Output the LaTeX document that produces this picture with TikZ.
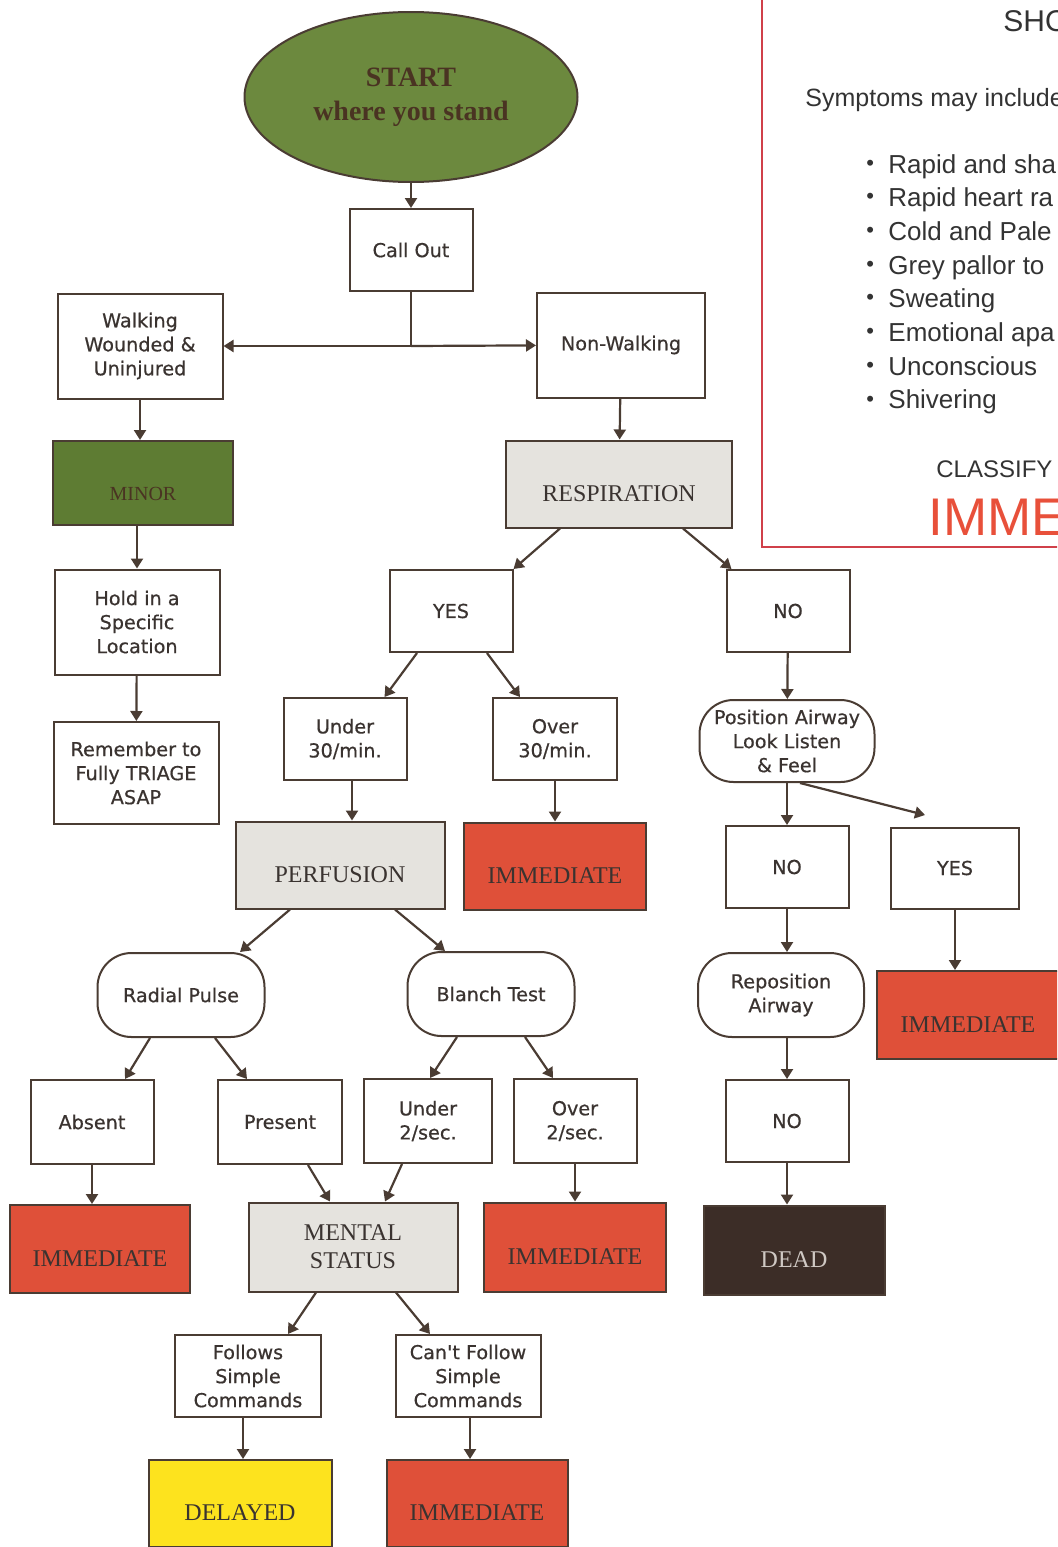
\documentclass[tikz,border=0pt]{standalone}
\usepackage{fontspec}
\setmainfont{Liberation Serif}
\newfontfamily\boxfont{DejaVu Sans}[FakeBold=0.6]
\newfontfamily\shockfont{Liberation Sans}
\usetikzlibrary{arrows.meta,shapes.geometric}
\definecolor{linec}{HTML}{4A3C33}
\definecolor{txtc}{HTML}{3A3330}
\definecolor{startc}{HTML}{6C893E}
\definecolor{minorc}{HTML}{5E7C33}
\definecolor{darkt}{HTML}{4A3322}
\definecolor{greyc}{HTML}{E5E3DE}
\definecolor{redc}{HTML}{DF5039}
\definecolor{yellowc}{HTML}{FDE31E}
\definecolor{deadc}{HTML}{3C2D27}
\definecolor{deadt}{HTML}{CFC8C3}
\definecolor{shockred}{HTML}{D0404A}
\definecolor{shocktxt}{HTML}{333333}
\definecolor{immred}{HTML}{E8503A}

\begin{document}
\begin{tikzpicture}[x=0.5pt, y=-0.5pt,
  box/.style={draw=linec, line width=1pt, fill=white, align=center, inner sep=1pt, text=txtc,
    font=\boxfont\fontsize{9.6pt}{12pt}\selectfont, minimum width=61.5pt, minimum height=41pt},
  bigbox/.style={box, minimum width=82.5pt, minimum height=52.5pt},
  rbox/.style={box, rounded corners=17pt, minimum width=83.5pt, minimum height=42pt},
  tag/.style={draw=linec, line width=1pt, align=center, inner sep=1pt, text=txtc,
    font=\fontsize{12pt}{14pt}\selectfont, minimum width=91pt, minimum height=43.5pt},
  low/.style={text height=17pt, text depth=0pt},
  immed/.style={tag, low, fill=redc},
  arr/.style={-{Triangle[width=6pt,length=5pt]}, line width=1.1pt, draw=linec},
  ln/.style={line width=1.1pt, draw=linec},
  shock/.style={font=\shockfont\fontsize{13pt}{15pt}\selectfont, text=shocktxt, anchor=base west, inner sep=0pt},
]
  \useasboundingbox (0,0) rectangle (1057,1547);
  \clip (0,0) rectangle (1057,1547);

  \draw[draw=shockred, line width=0.9pt] (762,-20) rectangle (1080,547);
  \node[shock, font=\shockfont\fontsize{15pt}{17pt}\selectfont] (shockT) at (1003,32) {SHO};
  \node[shock, font=\shockfont\fontsize{12.5pt}{15pt}\selectfont] (sympt) at (805,106) {Symptoms may include};
  \foreach \t [count=\i] in {Rapid and sha, Rapid heart ra, Cold and Pale, Grey pallor to,
      Sweating, Emotional apa, Unconscious, Shivering} {
    \node[shock, anchor=west, font=\shockfont\fontsize{11pt}{12pt}\selectfont] (dot\i) at (866,{131.3+33.7*\i}) {•};
    \node[shock] (sym\i) at (888,{139.3+33.7*\i}) {\t};
  }
  \node[shock, font=\shockfont\fontsize{12pt}{14pt}\selectfont] (classify) at (936,477) {CLASSIFY};
  \node[shock, text=immred, font=\shockfont\fontsize{26.5pt}{30pt}\selectfont] (immtxt) at (928,535) {IMME};

  \node[draw=linec, line width=1pt, fill=startc, ellipse, minimum width=166.5pt, minimum height=85pt,
    inner sep=0pt, align=center, text=darkt, font=\bfseries\fontsize{14pt}{17pt}\selectfont]
    (start) at (411,97) {START\\where you stand};
  \node[box] (call) at (411,250) {Call Out};
  \node[bigbox] (walk) at (140,346) {Walking\\Wounded \&\\Uninjured};
  \node[bigbox, minimum width=84pt] (nonw) at (621,345) {Non-Walking};
  \node[tag, low, fill=minorc, text=darkt, font=\fontsize{10pt}{12pt}\selectfont, minimum width=90pt, minimum height=42pt]
    (minor) at (143,483) {MINOR};
  \node[tag, low, fill=greyc, minimum width=113pt] (resp) at (619,484) {RESPIRATION};
  \node[bigbox] (hold) at (137,622) {Hold in a\\Specific\\Location};
  \node[bigbox, minimum height=51pt] (rem) at (136,773) {Remember to\\Fully TRIAGE\\ASAP};

  \node[box] (yes1) at (451,611) {YES};
  \node[box] (no1) at (788,611) {NO};
  \node[box] (u30) at (345,739) {Under\\30/min.};
  \node[box, minimum width=62pt] (o30) at (555,739) {Over\\30/min.};
  \node[rbox, minimum width=87.5pt, minimum height=41pt] (pos) at (787,741) {Position Airway\\Look Listen\\\& Feel};

  \node[tag, low, fill=greyc, minimum width=104.5pt] (perf) at (340,865) {PERFUSION};
  \node[immed] (imm1) at (555,866) {IMMEDIATE};
  \node[box] (no2) at (787,867) {NO};
  \node[box, minimum width=64pt, minimum height=40.5pt] (yes2) at (955,868) {YES};

  \node[rbox] (radial) at (181,995) {Radial Pulse};
  \node[rbox] (blanch) at (491,994) {Blanch Test};
  \node[rbox, minimum width=83pt] (rep) at (781,995) {Reposition\\Airway};
  \node[immed, minimum height=44pt] (imm2) at (968,1015) {IMMEDIATE};

  \node[box, minimum height=42pt] (absent) at (92,1122) {Absent};
  \node[box, minimum width=62pt, minimum height=42pt] (present) at (280,1122) {Present};
  \node[box, minimum width=64pt, minimum height=42pt] (u2) at (428,1121) {Under\\2/sec.};
  \node[box, minimum height=42pt] (o2) at (575,1121) {Over\\2/sec.};
  \node[box] (no3) at (787,1121) {NO};

  \node[immed, minimum width=90pt, minimum height=44pt] (imm3) at (100,1249) {IMMEDIATE};
  \node[tag, fill=greyc, minimum width=104.5pt, minimum height=44.5pt] (mental) at (353,1247) {MENTAL\\STATUS};
  \node[immed, minimum height=44.5pt] (imm4) at (575,1247) {IMMEDIATE};
  \node[tag, low, fill=deadc, text=deadt, minimum width=90.5pt, minimum height=44.5pt] (dead) at (794,1250) {DEAD};

  \node[box, minimum width=73pt] (fol) at (248,1376) {Follows\\Simple\\Commands};
  \node[box, minimum width=72.5pt] (cant) at (468,1376) {Can't Follow\\Simple\\Commands};
  \node[tag, low, fill=yellowc, minimum width=91.5pt] (del) at (240,1503.5) {DELAYED};
  \node[immed, minimum width=90.5pt] (imm5) at (477,1503.5) {IMMEDIATE};

  \draw[arr] (start) -- (call);
  \coordinate (split) at (call.south |- walk.east);
  \draw[ln] (call) -- (split);
  \draw[arr] (split) -- (walk);
  \draw[arr] (split) -- (nonw);
  \draw[arr] (walk.south) -- (walk.south |- minor.north);
  \draw[arr] (hold.north |- minor.south) -- (hold.north);
  \draw[arr] (hold) -- (rem);
  \draw[arr] (nonw) -- (resp);
  \draw[arr] ([xshift=-29.5pt]resp.south) -- (yes1.north east);
  \draw[arr] ([xshift=32pt]resp.south) -- ([xshift=3pt]no1.north west);
  \draw[arr] (no1) -- (pos);
  \draw[arr] ([xshift=-17pt]yes1.south) -- ([xshift=-11.5pt]u30.north east);
  \draw[arr] ([xshift=18pt]yes1.south) -- ([xshift=14pt]o30.north west);
  \draw[arr] ([xshift=3.5pt]u30.south) -- ([xshift=3.5pt]u30.south |- perf.north);
  \draw[arr] (o30) -- (imm1);
  \draw[arr] (pos) -- (no2);
  \coordinate (posend) at (925,815);
  \draw[arr] ([xshift=6.5pt]pos.south) -- (posend);
  \draw[arr] (yes2.south) -- (yes2.south |- imm2.north);
  \draw[arr] (no2.south) -- (no2.south |- rep.north);
  \draw[arr] (no3.north |- rep.south) -- (no3.north);
  \draw[arr] (no3.south) -- (no3.south |- dead.north);
  \draw[arr] ([xshift=-25pt]perf.south) -- ([xshift=29.5pt]radial.north);
  \draw[arr] ([xshift=27.5pt]perf.south) -- ([xshift=-23pt]blanch.north);
  \draw[arr] ([xshift=-15.5pt]radial.south) -- ([xshift=16.5pt]absent.north);
  \draw[arr] ([xshift=17pt]radial.south) -- ([xshift=-16.5pt]present.north);
  \draw[arr] ([xshift=-17pt]blanch.south) -- ([xshift=1pt]u2.north);
  \draw[arr] ([xshift=17pt]blanch.south) -- ([xshift=-11pt]o2.north);
  \draw[arr] (absent.south) -- (absent.south |- imm3.north);
  \draw[arr] ([xshift=14pt]present.south) -- ([xshift=-11.5pt]mental.north);
  \draw[arr] ([xshift=-13pt]u2.south) -- ([xshift=16pt]mental.north);
  \draw[arr] (o2) -- (imm4);
  \draw[arr] ([xshift=-18.5pt]mental.south) -- ([xshift=20pt]fol.north);
  \draw[arr] ([xshift=21.5pt]mental.south) -- ([xshift=-19pt]cant.north);
  \draw[arr] ([xshift=-2.5pt]fol.south) -- ([xshift=-2.5pt]fol.south |- del.north);
  \draw[arr] ([xshift=1pt]cant.south) -- ([xshift=1pt]cant.south |- imm5.north);
\end{tikzpicture}
\end{document}
